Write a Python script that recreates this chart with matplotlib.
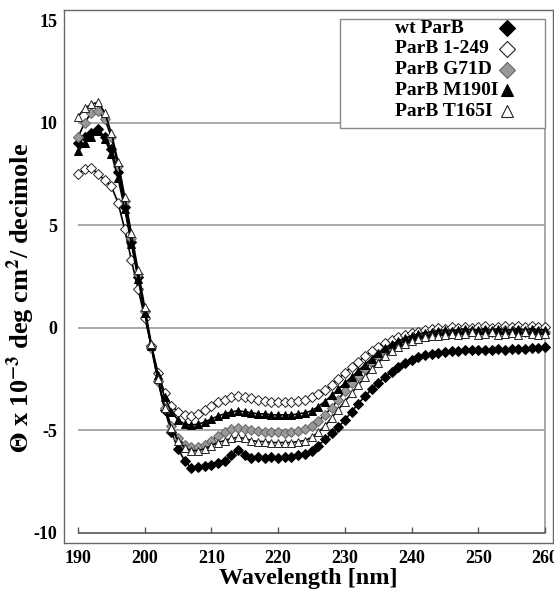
import numpy as np
import matplotlib.pyplot as plt
from matplotlib.patches import Rectangle

plt.rcParams['font.family'] = ['Liberation Serif', 'DejaVu Serif']
plt.rcParams['mathtext.fontset'] = 'stix'
plt.rcParams['axes.unicode_minus'] = False

wavelength = np.arange(190, 261)

wt_parb = [9.0, 9.3, 9.5, 9.7, 9.3, 8.7, 7.6, 5.9, 4.2, 2.5,
           0.8, -0.9, -2.6, -4.0, -5.1, -5.9, -6.5, -6.85, -6.8, -6.75,
           -6.7, -6.6, -6.5, -6.2, -5.95, -6.2, -6.35, -6.3, -6.35, -6.3,
           -6.35, -6.3, -6.3, -6.2, -6.15, -6.0, -5.75, -5.45, -5.15, -4.85,
           -4.5, -4.1, -3.7, -3.35, -3.0, -2.7, -2.4, -2.15, -1.9, -1.7,
           -1.55, -1.45, -1.35, -1.3, -1.25, -1.2, -1.15, -1.15, -1.1, -1.1,
           -1.1, -1.1, -1.1, -1.05, -1.1, -1.05, -1.05, -1.05, -1.0, -1.0,
           -0.95]

parb_1_249 = [7.5, 7.75, 7.8, 7.5, 7.2, 6.9, 6.1, 4.8, 3.3, 1.9,
              0.5, -0.9, -2.2, -3.2, -3.8, -4.1, -4.25, -4.3, -4.2, -4.0,
              -3.8, -3.6, -3.5, -3.4, -3.35, -3.4, -3.45, -3.5, -3.55, -3.6,
              -3.6, -3.6, -3.6, -3.55, -3.5, -3.4, -3.25, -3.05, -2.8, -2.5,
              -2.2, -1.9, -1.65, -1.4, -1.15, -0.95, -0.75, -0.6, -0.45, -0.35,
              -0.25, -0.2, -0.1, -0.05, 0.0, -0.05, 0.05, 0.0, 0.05, 0.0,
              0.05, 0.1, 0.0, 0.05, 0.1, 0.05, 0.1, 0.05, 0.1, 0.05,
              0.05]

parb_g71d = [9.3, 10.0, 10.5, 10.55, 10.2, 9.3, 7.9, 6.2, 4.4, 2.6,
             0.8, -1.0, -2.6, -3.9, -4.8, -5.4, -5.7, -5.8, -5.8, -5.7,
             -5.5, -5.3, -5.1, -4.95, -4.9, -4.95, -5.0, -5.05, -5.1, -5.1,
             -5.1, -5.15, -5.1, -5.05, -4.95, -4.8, -4.55, -4.25, -3.9, -3.5,
             -3.1, -2.7, -2.35, -2.0, -1.7, -1.4, -1.15, -0.95, -0.8, -0.65,
             -0.55, -0.45, -0.35, -0.3, -0.25, -0.25, -0.2, -0.2, -0.25, -0.15,
             -0.2, -0.15, -0.2, -0.2, -0.1, -0.2, -0.15, -0.2, -0.15, -0.2,
             -0.2]

parb_m190i = [8.6, 9.0, 9.3, 9.6, 9.2, 8.5, 7.3, 5.8, 4.1, 2.4,
              0.7, -0.9, -2.3, -3.4, -4.1, -4.5, -4.7, -4.75, -4.7, -4.6,
              -4.45, -4.3, -4.2, -4.1, -4.05, -4.1, -4.15, -4.2, -4.2, -4.25,
              -4.25, -4.25, -4.25, -4.2, -4.15, -4.05, -3.85, -3.6, -3.3, -3.0,
              -2.7, -2.4, -2.1, -1.8, -1.5, -1.25, -1.0, -0.8, -0.65, -0.5,
              -0.4, -0.3, -0.25, -0.2, -0.15, -0.1, -0.15, -0.1, -0.05, -0.1,
              -0.1, -0.05, -0.1, -0.05, -0.1, -0.1, -0.05, -0.1, -0.05, -0.1,
              -0.1]

parb_t165i = [10.3, 10.7, 10.9, 11.0, 10.5, 9.5, 8.1, 6.4, 4.6, 2.8,
              1.0, -0.8, -2.5, -3.9, -4.9, -5.5, -5.85, -6.0, -6.0, -5.9,
              -5.75, -5.6, -5.5, -5.4, -5.35, -5.4, -5.5, -5.55, -5.55, -5.6,
              -5.6, -5.6, -5.6, -5.55, -5.5, -5.35, -5.1, -4.8, -4.4, -4.0,
              -3.6, -3.2, -2.8, -2.4, -2.0, -1.7, -1.4, -1.15, -0.95, -0.8,
              -0.65, -0.55, -0.45, -0.4, -0.4, -0.35, -0.3, -0.35, -0.3, -0.2,
              -0.35, -0.3, -0.2, -0.35, -0.3, -0.25, -0.35, -0.2, -0.3, -0.35,
              -0.3]

series = [
    ("wt ParB", wt_parb, "D", "black", "black"),
    ("ParB 1-249", parb_1_249, "D", "white", "#222222"),
    ("ParB G71D", parb_g71d, "D", "#999999", "#666666"),
    ("ParB M190I", parb_m190i, "^", "black", "black"),
    ("ParB T165I", parb_t165i, "^", "white", "#222222"),
]

xticks = [190, 200, 210, 220, 230, 240, 250, 260]
yticks = [-10, -5, 0, 5, 10, 15]
grid_y = [-5, 0, 5, 10]

fig = plt.figure(figsize=(5.54, 5.96), dpi=100)
ax = fig.add_axes([64 / 554, 53 / 596, 489 / 554, 533 / 596])

# inner plot area: grid lines, right edge, bottom axis with ticks
ax.hlines(grid_y, 190, 260, color="#999999", lw=1.2, zorder=1)
ax.vlines(260, -10, 15, color="#999999", lw=1.2, zorder=1)
ax.hlines(-10, 190, 260, color="#555555", lw=1.2, zorder=1)
ax.vlines(xticks, -10, -9.72, color="#555555", lw=1.0, zorder=1)

for label, vals, mk, fc, ec in series:
    ax.plot(wavelength, vals, color="black", lw=1.2, marker=mk,
            markersize=5 if mk == "D" else 5.5, markerfacecolor=fc,
            markeredgecolor=ec, markeredgewidth=0.7, label=label, zorder=3)

ax.set_xlim(187.9, 261.2)
ax.set_ylim(-10.5, 15.5)
ax.set_xticks(xticks)
ax.set_yticks(yticks)
ax.tick_params(length=0, labelsize=13, pad=5)
for t in ax.get_xticklabels() + ax.get_yticklabels():
    t.set_fontweight("bold")
for sp in ax.spines.values():
    sp.set_color("#666666")
    sp.set_linewidth(1.0)

ax.set_xlabel("Wavelength [nm]", fontsize=17.5, fontweight="bold")
ax.xaxis.set_label_coords(0.5, -0.046)
ax.set_ylabel(r"$\mathbf{\Theta}$ x 10$^{\mathbf{-3}}$ deg cm$^{\mathbf{2}}$/ decimole",
              fontsize=19, fontweight="bold")
ax.yaxis.set_label_coords(-0.055, 0.46)

# legend: framed box, labels on the left, markers on the right
ax.add_patch(Rectangle((0.564, 0.779), 0.419, 0.204, transform=ax.transAxes,
                       facecolor="white", edgecolor="#888888", lw=1.0, zorder=4))
for i, (label, vals, mk, fc, ec) in enumerate(series):
    yy = 0.966 - 0.039 * i
    ax.text(0.677, yy, label, transform=ax.transAxes, fontsize=14,
            fontweight="bold", va="center", ha="left", zorder=5)
    ax.plot([0.905], [yy], transform=ax.transAxes, linestyle="none", marker=mk,
            markersize=8, markerfacecolor=fc, markeredgecolor=ec,
            markeredgewidth=0.8, zorder=5, clip_on=False)

fig.savefig("out.png", dpi=100)
